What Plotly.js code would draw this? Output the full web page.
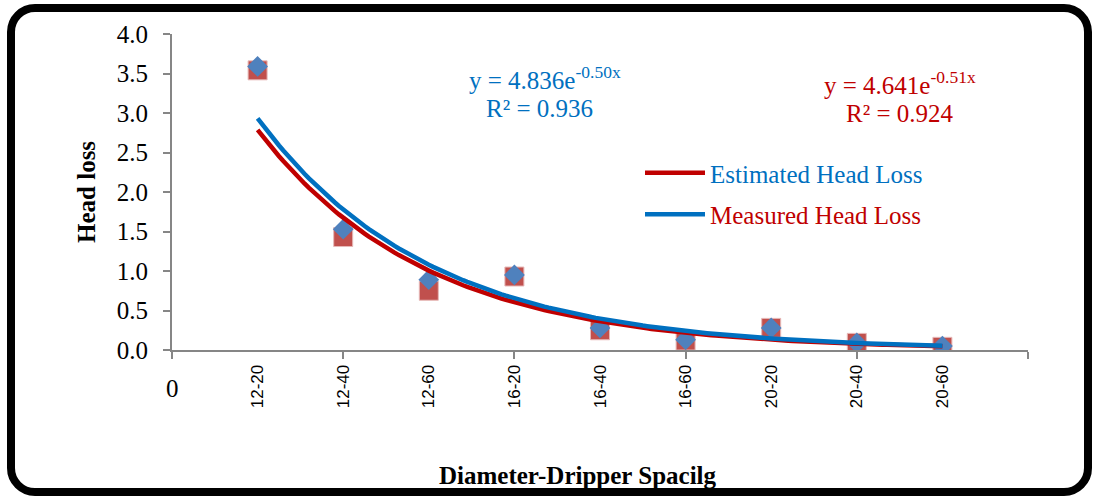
<!DOCTYPE html>
<html>
<head>
<meta charset="utf-8">
<script src="https://cdn.plot.ly/plotly-3.0.1.min.js"></script>
<style>
  html, body { margin: 0; padding: 0; background: #fff; }
  #wrap { position: relative; width: 1099px; height: 504px; }
  #chart { width: 1099px; height: 504px; }
  #frame { position: absolute; left: 7px; top: 4px; width: 1085px; height: 492px;
           border: 8px solid #000; border-radius: 28px; box-sizing: border-box; pointer-events: none; }
</style>
</head>
<body>
<div id="wrap"><div id="chart"></div><div id="frame"></div></div>
<script>
// ---- data ----
const categories = ["12-20", "12-40", "12-60", "16-20", "16-40", "16-60", "20-20", "20-40", "20-60"];
const positions = [1, 2, 3, 4, 5, 6, 7, 8, 9];
const measured  = [3.59, 1.53, 0.89, 0.95, 0.28, 0.13, 0.28, 0.09, 0.05];
const estimated = [3.54, 1.43, 0.75, 0.93, 0.25, 0.12, 0.28, 0.09, 0.04];
// trendline constants as printed on the chart: y = a * exp(b x)
const measuredFit  = { a: 4.836, b: -0.50, r2: 0.936 };
const estimatedFit = { a: 4.641, b: -0.51, r2: 0.924 };

const BLUE = "#0070C0", RED = "#C00000";

function trend(fit) {
  const xs = [], ys = [];
  for (let i = 0; i <= 160; i++) {
    const x = 1 + i * (8 / 160);
    xs.push(x); ys.push(fit.a * Math.exp(fit.b * x));
  }
  return { xs, ys };
}
const tEst = trend(estimatedFit), tMea = trend(measuredFit);

const traces = [
  { x: positions, y: estimated, type: "scatter", mode: "markers", showlegend: false,
    marker: { symbol: "square", size: 19, color: "#C0504D", line: { color: "#E6B9B8", width: 1 } } },
  { x: positions, y: measured, type: "scatter", mode: "markers", showlegend: false,
    marker: { symbol: "diamond", size: 16, color: "#4F81BD", line: { width: 0 } } },
  { x: tEst.xs, y: tEst.ys, type: "scatter", mode: "lines", legendgroup: "a",
    name: '<span style="color:' + BLUE + '">Estimated Head Loss</span>',
    line: { color: RED, width: 4.5 } },
  { x: tMea.xs, y: tMea.ys, type: "scatter", mode: "lines", legendgroup: "b",
    name: '<span style="color:' + RED + '">Measured Head Loss</span>',
    line: { color: BLUE, width: 4.5 } }
];

const L = 172, R = 1028, T = 34, B = 350;
const px = v => (v - L) / (R - L);
const py = v => (B - v) / (B - T);
const serif = "Liberation Serif, Times New Roman, serif";
const FS = 25;

function note(x, y, text, color, extra) {
  return Object.assign({ xref: "paper", yref: "paper", x: px(x), y: py(y), text: text,
    xanchor: "center", yanchor: "middle", showarrow: false,
    font: { family: serif, size: FS, color: color } }, extra || {});
}

const layout = {
  width: 1099, height: 504,
  margin: { l: L, r: 1099 - R, t: T, b: 504 - B },
  paper_bgcolor: "#fff", plot_bgcolor: "#fff",
  showlegend: true,
  legend: { x: px(640), y: py(150), xanchor: "left", yanchor: "top",
            font: { family: serif, size: FS }, tracegroupgap: 6, itemwidth: 60,
            bgcolor: "rgba(0,0,0,0)" },
  xaxis: {
    range: [0, 10], showgrid: false, zeroline: false,
    showline: true, linecolor: "#868686", linewidth: 2,
    tickmode: "array", tickvals: positions, ticktext: categories,
    ticks: "", tickangle: -90, ticklabelstandoff: 6,
    tickfont: { family: "Liberation Sans, Arial, sans-serif", size: 17, color: "#000" },
    minor: { tickmode: "linear", tick0: 0, dtick: 2, ticks: "outside", ticklen: 7,
             tickcolor: "#868686", tickwidth: 2, showgrid: false }
  },
  yaxis: {
    range: [0, 4], dtick: 0.5, tick0: 0, tickformat: ".1f",
    showgrid: false, zeroline: false,
    showline: true, linecolor: "#868686", linewidth: 2,
    ticks: "outside", ticklen: 7, tickcolor: "#868686", tickwidth: 2,
    ticklabelstandoff: 10,
    tickfont: { family: serif, size: FS, color: "#000" }
  },
  annotations: [
    { xref: "x", yref: "paper", x: 0, y: py(388), text: "0", showarrow: false,
      xanchor: "center", yanchor: "middle",
      font: { family: serif, size: FS, color: "#000" } },
    note(86, 192, "<b>Head loss</b>", "#000", { textangle: -90 }),
    note(578, 476, "<b>Diameter-Dripper Spacilg</b>", "#000"),
    note(545, 78, "y = " + measuredFit.a.toFixed(3) + "e<sup>" + measuredFit.b.toFixed(2) + "x</sup>", BLUE),
    note(539, 108, "R² = " + measuredFit.r2.toFixed(3), BLUE),
    note(900, 83, "y = " + estimatedFit.a.toFixed(3) + "e<sup>" + estimatedFit.b.toFixed(2) + "x</sup>", RED),
    note(900, 113, "R² = " + estimatedFit.r2.toFixed(3), RED)
  ]
};

Plotly.newPlot("chart", traces, layout, { displayModeBar: false, staticPlot: true });
</script>
</body>
</html>
